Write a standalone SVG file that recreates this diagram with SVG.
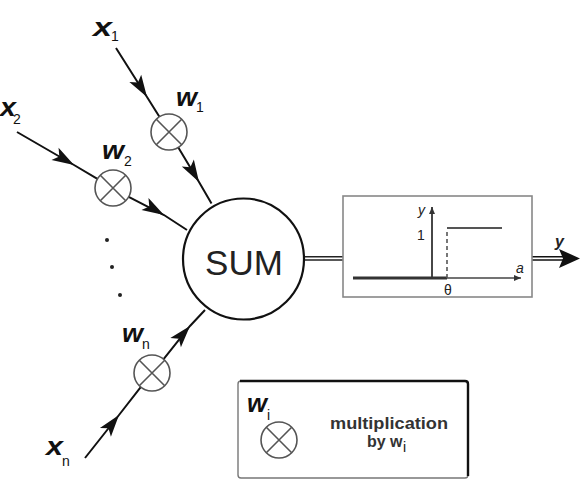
<svg xmlns="http://www.w3.org/2000/svg" width="581" height="487" viewBox="0 0 581 487">
<defs>
<style>
.conn{fill:none;stroke:#111;stroke-width:2}
.mult{fill:#fff;stroke:#555;stroke-width:1.6}
.lbl{font-family:"Liberation Sans",Arial,sans-serif;font-weight:bold;font-style:italic;font-size:25px;fill:#111}
.sub{font-family:"Liberation Sans",Arial,sans-serif;font-size:14px;fill:#111}
.sm{font-family:"Liberation Sans",Arial,sans-serif;font-size:14px;fill:#222}
.txt{font-family:"Liberation Sans",Arial,sans-serif;font-size:16px;font-weight:bold;fill:#333}
</style>
<marker id="ah" markerUnits="userSpaceOnUse" markerWidth="26" markerHeight="18" viewBox="-23 -9 24 18" refX="0" refY="0" orient="auto">
<path d="M0,0 L-22,-7 L-17,0 L-22,7 Z" fill="#111"/>
</marker>
<marker id="ahs" markerUnits="userSpaceOnUse" markerWidth="10" markerHeight="8" viewBox="-8 -4 9 8" refX="0" refY="0" orient="auto">
<path d="M0,0 L-7,-3 L-7,3 Z" fill="#333"/>
</marker>
<g id="mx">
<circle r="18" cx="0" cy="0" class="mult"/>
<path d="M-12.7,-12.7 L12.7,12.7 M-12.7,12.7 L12.7,-12.7" stroke="#555" stroke-width="1.6"/>
</g>
</defs>

<g id="connectors">
<path class="conn" d="M116,48 L147,97 L159.4,116.8" marker-mid="url(#ah)"/>
<path class="conn" d="M178.3,147.4 L199,182 L211.5,203.5" marker-mid="url(#ah)"/>
<path class="conn" d="M17,132 L74,165 L97.4,178.9" marker-mid="url(#ah)"/>
<path class="conn" d="M128.7,196.9 L164,215 L187,230" marker-mid="url(#ah)"/>
<path class="conn" d="M85,458 L119,415 L140.9,386.9" marker-mid="url(#ah)"/>
<path class="conn" d="M163.6,359.2 L190,326 L205,310" marker-mid="url(#ah)"/>
<path d="M304,256.7 L343,256.7 M304,260 L343,260" stroke="#222" stroke-width="1.4"/>
<path d="M532,256.7 L564,256.7 M532,260 L564,260" stroke="#111" stroke-width="1.6"/>
<path d="M580,258.4 L559,249 L563,258.4 L559,268 Z" fill="#111"/>
</g>

<g id="x1"><text class="lbl" x="93" y="36" textLength="19" lengthAdjust="spacingAndGlyphs">x</text><text class="sub" x="111" y="41">1</text></g>
<g id="x2"><text class="lbl" x="0" y="116" textLength="16" lengthAdjust="spacingAndGlyphs">x</text><text class="sub" x="13" y="124">2</text></g>
<g id="xn"><text class="lbl" x="46" y="455" textLength="17" lengthAdjust="spacingAndGlyphs">x</text><text class="sub" x="62" y="466">n</text></g>

<g id="w1"><use href="#mx" x="169" y="132"/><text class="lbl" x="176" y="106" textLength="21" lengthAdjust="spacingAndGlyphs">w</text><text class="sub" x="196" y="112">1</text></g>
<g id="w2"><use href="#mx" x="113" y="188"/><text class="lbl" x="102" y="159" textLength="22" lengthAdjust="spacingAndGlyphs">w</text><text class="sub" x="124" y="166">2</text></g>
<g id="wn"><use href="#mx" x="152" y="373"/><text class="lbl" x="122" y="342" textLength="21" lengthAdjust="spacingAndGlyphs">w</text><text class="sub" x="142" y="349">n</text></g>

<g id="dots" fill="#222">
<circle cx="107" cy="240" r="2"/>
<circle cx="112" cy="267" r="2"/>
<circle cx="120" cy="295" r="2"/>
</g>

<g id="sum">
<circle cx="243.5" cy="259" r="60.5" fill="#fff" stroke="#111" stroke-width="2.2"/>
<text x="244" y="275" text-anchor="middle" font-family="'Liberation Sans',Arial,sans-serif" font-size="35" fill="#222">SUM</text>
</g>

<g id="threshold">
<rect x="343" y="196" width="189" height="101" fill="#fff" stroke="#888" stroke-width="1.6"/>
<path d="M447,278 L521,278" stroke="#444" stroke-width="1.5" marker-end="url(#ahs)"/>
<path d="M353,278 L447,278" stroke="#333" stroke-width="3"/>
<path d="M432,278 L432,207" stroke="#333" stroke-width="1.8" marker-end="url(#ahs)"/>
<path d="M447,278 L447,229" stroke="#555" stroke-width="1.6" stroke-dasharray="4,3"/>
<path d="M447,228 L502,228" stroke="#555" stroke-width="2"/>
<text x="418" y="215" class="sm" font-style="italic">y</text>
<text x="417" y="240" class="sm">1</text>
<text x="448" y="295" class="sm" text-anchor="middle">θ</text>
<text x="516" y="273" class="sm" font-style="italic">a</text>
</g>
<g id="out"><text x="555" y="247" font-family="'Liberation Sans',Arial,sans-serif" font-size="16" font-style="italic" font-weight="bold" fill="#222">y</text></g>

<g id="legend">
<rect x="238" y="381" width="230" height="97" rx="3" fill="#fff" stroke="#777" stroke-width="1.4"/>
<path d="M240,381 L465,381 Q468,381 468,384 L468,476" fill="none" stroke="#111" stroke-width="2.4"/>
<text class="lbl" x="247" y="412" textLength="20" lengthAdjust="spacingAndGlyphs">w</text><text class="sub" x="267" y="420">i</text>
<use href="#mx" x="279" y="440"/>
<text class="txt" x="330" y="429" textLength="118" lengthAdjust="spacingAndGlyphs">multiplication</text>
<text class="txt" x="367" y="447">by w</text><text class="sub" x="403" y="452" font-size="11">i</text>
</g>
</svg>
